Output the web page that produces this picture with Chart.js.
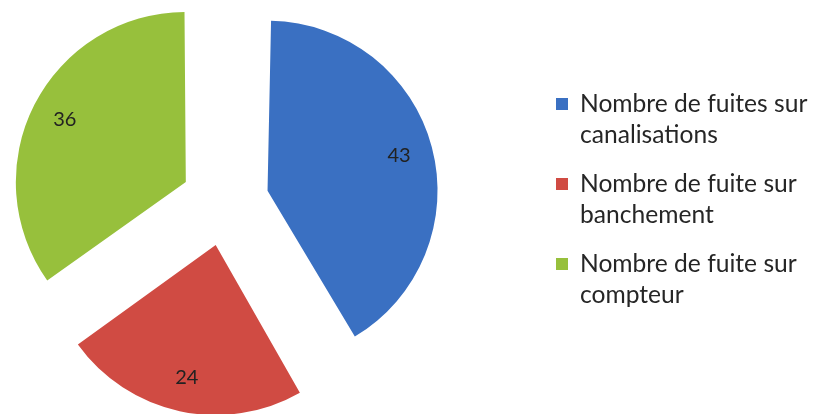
<!DOCTYPE html>
<html>
<head>
<meta charset="utf-8">
<script src="https://cdn.jsdelivr.net/npm/chart.js@4.4.0/dist/chart.umd.min.js"></script>
<style>
  body { margin: 0; background: #fff; }
  #wrap { position: relative; width: 813px; height: 414px; overflow: hidden; }
  #legend { position: absolute; left: 556px; top: 87px; font-family: Lato, sans-serif; font-size: 24.6px; line-height: 31px; color: #262626; }
  .item { display: flex; height: 80px; }
  .box { width: 12px; height: 12px; margin-top: 11px; margin-right: 12px; flex: none; }
</style>
</head>
<body>
<div id="wrap">
  <canvas id="pie" width="813" height="414"></canvas>
  <div id="legend"></div>
</div>
<script>
// leak counts by location
const categories = [
  ["Nombre de fuites sur", "canalisations"],
  ["Nombre de fuite sur", "banchement"],
  ["Nombre de fuite sur", "compteur"]
];
const leaks = [43, 24, 36];
const colors = ["#3a70c2", "#d04b43", "#97c03c"];

const radius = 170;
const explode = 44;   // how far each slice is pulled out, px
const total = leaks.reduce((a, b) => a + b, 0);

// chart.js moves an arc out by offset/4 and also grows it by offset/4 * fix
function arcFix(i) {
  const c = leaks[i] / total * 2 * Math.PI;
  return 1 - Math.sin(Math.min(Math.PI, c));
}

// keep every slice at the same radius once it is pulled out
const evenRadius = {
  id: "evenRadius",
  afterDatasetsUpdate(chart) {
    chart.getDatasetMeta(0).data.forEach((arc, i) => {
      arc.outerRadius = radius - explode * arcFix(i);
    });
  }
};

// numbers written inside each slice
const valueLabels = {
  id: "valueLabels",
  afterDatasetsDraw(chart) {
    const ctx = chart.ctx;
    const meta = chart.getDatasetMeta(0);
    ctx.save();
    ctx.font = "20px Lato";
    ctx.fillStyle = "#222";
    ctx.textAlign = "center";
    ctx.textBaseline = "middle";
    meta.data.forEach((arc, i) => {
      const mid = (arc.startAngle + arc.endAngle) / 2;
      const r = explode + radius * 0.8;
      ctx.fillText(chart.data.datasets[0].data[i], arc.x + Math.cos(mid) * r, arc.y + Math.sin(mid) * r);
    });
    ctx.restore();
  }
};

function buildLegend() {
  const legend = document.getElementById("legend");
  categories.forEach((lines, i) => {
    const item = document.createElement("div");
    item.className = "item";
    const box = document.createElement("div");
    box.className = "box";
    box.style.background = colors[i];
    const text = document.createElement("div");
    text.innerHTML = lines.join("<br>");
    item.appendChild(box);
    item.appendChild(text);
    legend.appendChild(item);
  });
}

function draw() {
  new Chart(document.getElementById("pie"), {
    type: "pie",
    data: {
      labels: categories.map(l => l.join(" ")),
      datasets: [{
        data: leaks,
        backgroundColor: colors,
        borderWidth: 0,
        offset: explode * 4,
        hoverOffset: 0
      }]
    },
    options: {
      responsive: false,
      animation: false,
      radius: radius,
      layout: { padding: { left: 10, right: 373, top: 10, bottom: 20 } },
      plugins: {
        legend: { display: false },
        tooltip: { enabled: false }
      }
    },
    plugins: [evenRadius, valueLabels]
  });
}

buildLegend();
document.fonts.load("20px Lato").then(draw, draw);
</script>
</body>
</html>
